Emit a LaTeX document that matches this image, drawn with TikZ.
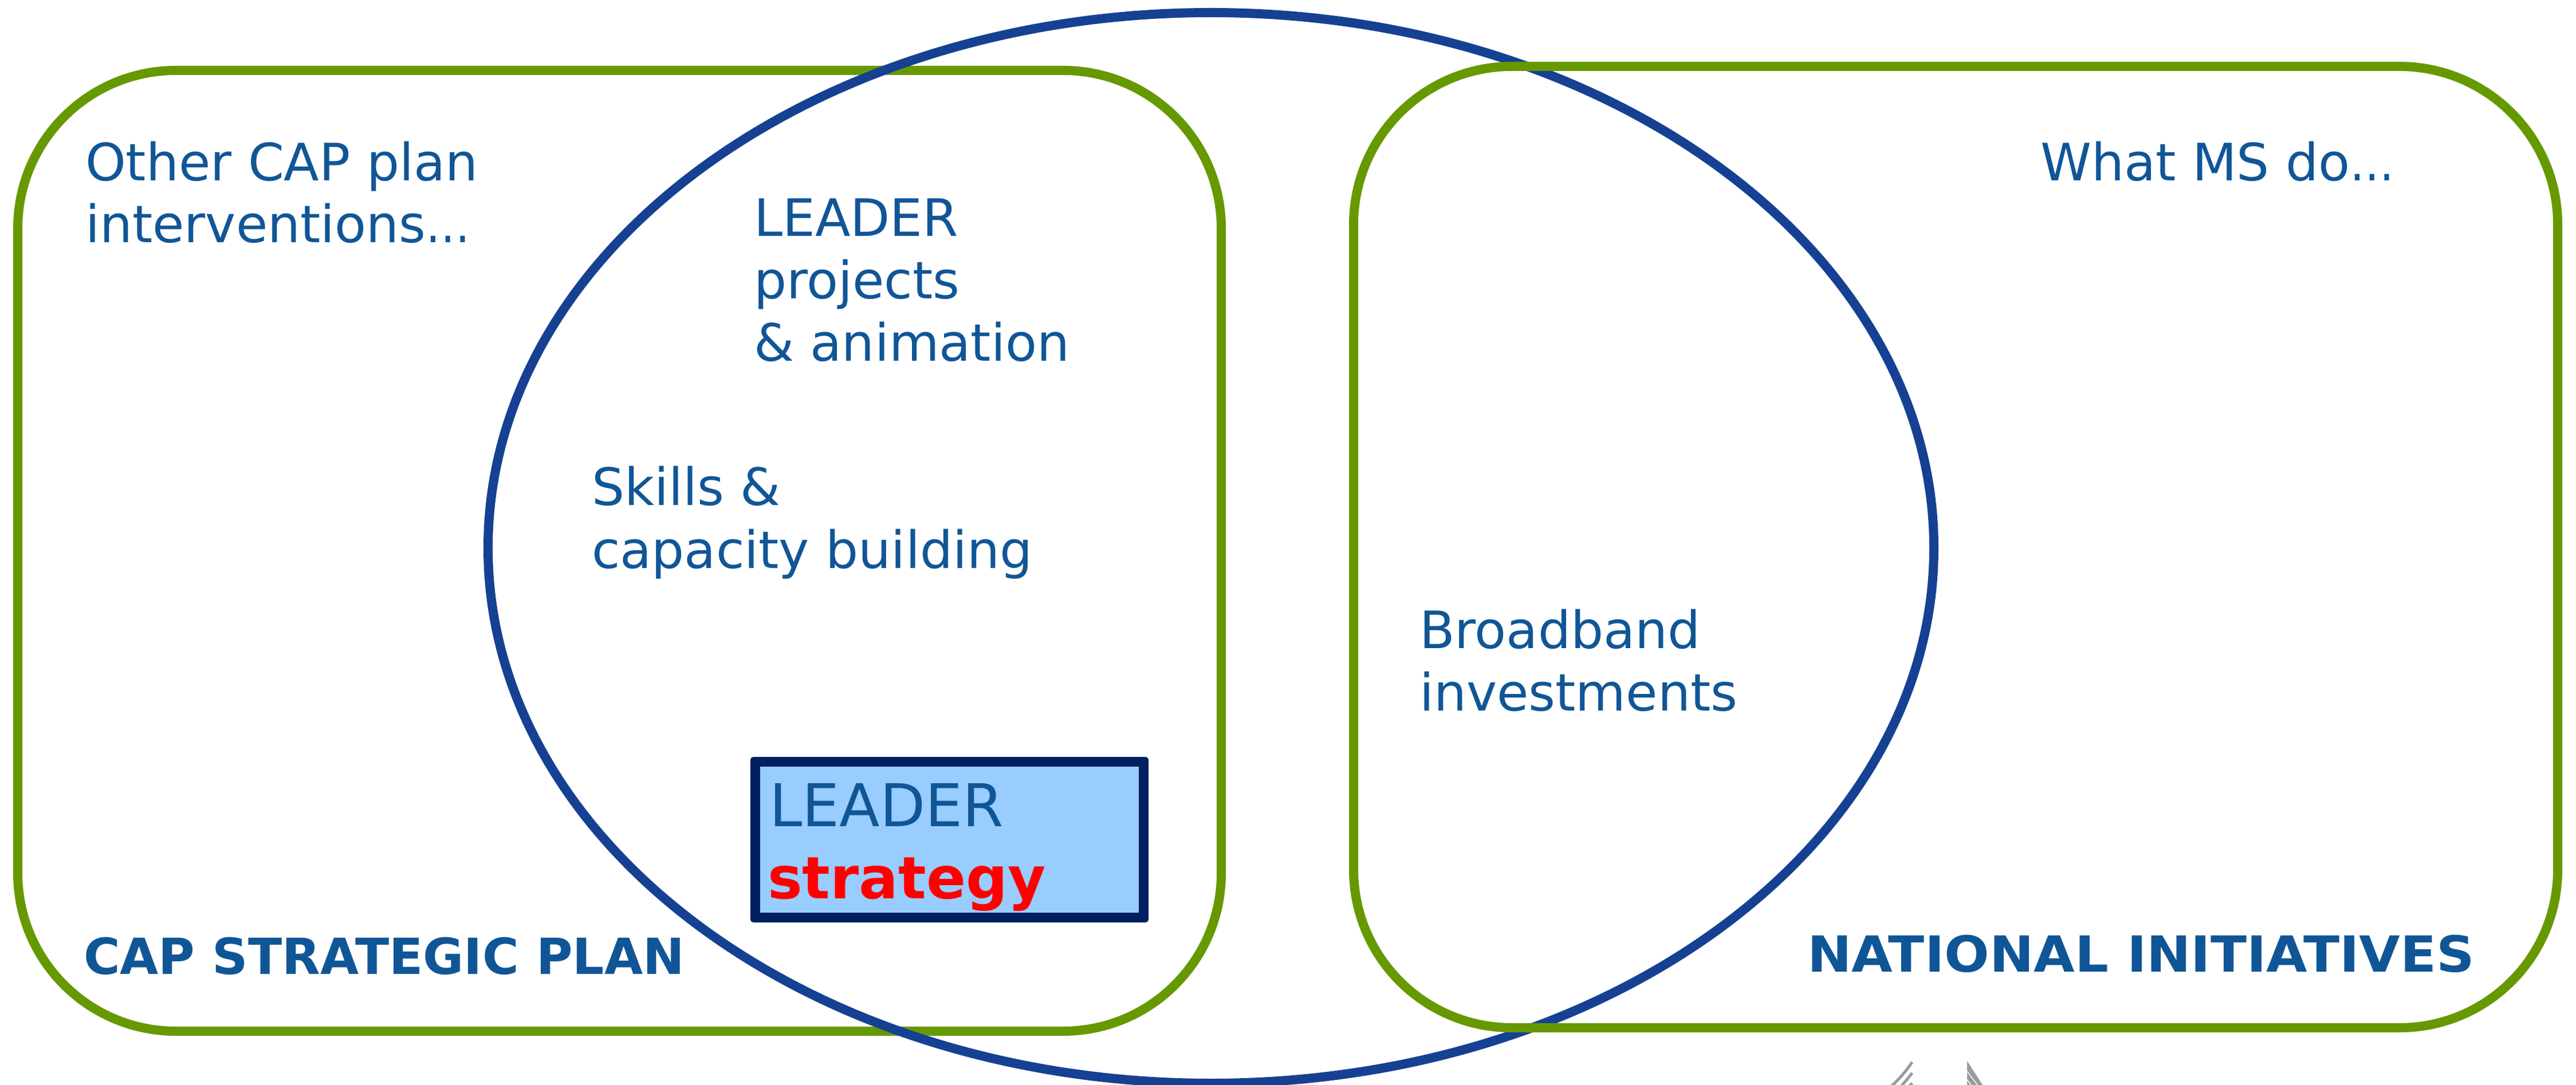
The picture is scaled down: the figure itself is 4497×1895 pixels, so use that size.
\documentclass[tikz,border=0pt]{standalone}
\usepackage{fontspec}
\setmainfont{DejaVu Sans}
\definecolor{framegreen}{HTML}{669900}
\definecolor{ovalblue}{HTML}{164193}
\definecolor{textblue}{HTML}{105697}
\definecolor{boxnavy}{HTML}{002060}
\definecolor{boxfill}{HTML}{99CCFF}
\definecolor{markgrey}{HTML}{9A9B9E}
\newcommand{\bodysize}{\fontsize{25.6pt}{30.73pt}\selectfont}
\newcommand{\headsize}{\fontsize{24.7pt}{29pt}\selectfont\bfseries}
\newcommand{\boxsize}{\fontsize{29.3pt}{35pt}\selectfont}
\newcommand{\dotsnarrow}{\scalebox{0.86}[1]{…}}
\tikzset{
  px/.style={x=0.01cm,y=-0.01cm},
  frame/.style={draw=framegreen,line width=0.16cm,rounded corners=2.76cm},
  oval/.style={draw=ovalblue,line width=0.16cm},
  body/.style={inner sep=0,outer sep=0,anchor=base west,text=textblue,align=left,font=\bodysize},
  head/.style={inner sep=0,outer sep=0,anchor=base west,text=textblue,font=\headsize},
  boxtext/.style={inner sep=0,outer sep=0,anchor=base west,font=\boxsize},
  greymark/.style={draw=markgrey,line width=0.05cm},
}
\begin{document}
\begin{tikzpicture}[px]
\useasboundingbox (0,0) rectangle (4497,1895);
\clip (0,0) rectangle (4497,1895);
\draw[frame] (31,123) rectangle (2132,1801);
\draw[oval] (2114,957) ellipse [x radius=1262,y radius=935];
\draw[frame] (2363,116) rectangle (4465,1795);
\fill[boxnavy,rounded corners=0.05cm] (1310,1322) rectangle (2005,1611);
\fill[boxfill] (1327,1339) rectangle (1988,1594);
\node[body] (other1) at (149,316) {Other CAP plan};
\node[body] (other2) at (149,424) {interventions\dotsnarrow};
\node[body] (lead1) at (1316,413) {LEADER};
\node[body] (lead2) at (1316,522) {projects};
\node[body] (lead3) at (1316,631) {\& animation};
\node[body] (skill1) at (1033,883) {Skills \&};
\node[body] (skill2) at (1033,992) {capacity building};
\node[body] (broad1) at (2478,1132) {Broadband};
\node[body] (broad2) at (2478,1241) {investments};
\node[body] (what) at (3562,316) {What MS do\dotsnarrow};
\node[head] (capplan) at (146,1701) {CAP STRATEGIC PLAN};
\node[head] (natinit) at (3155,1697) {\scalebox{1.065}[1]{NATIONAL INITIATIVES}};
\node[boxtext,text=textblue] (boxa) at (1343,1443) {LEADER};
\node[boxtext,text=red,font=\fontsize{29pt}{35pt}\selectfont\bfseries] (boxb) at (1340,1569) {strategy};
\draw[greymark] (3338,1855) .. controls (3328,1870) and (3316,1884) .. (3302,1897);
\draw[greymark] (3338,1874) .. controls (3332,1882) and (3326,1889) .. (3319,1897);
\draw[greymark] (3338,1892) -- (3333,1897);
\fill[markgrey] (3434,1853) -- (3461,1895) -- (3434,1895) -- cycle;
\draw[white,line width=0.015cm] (3434,1871) -- (3452,1895);
\draw[white,line width=0.015cm] (3434,1886) -- (3441,1895);
\end{tikzpicture}
\end{document}
